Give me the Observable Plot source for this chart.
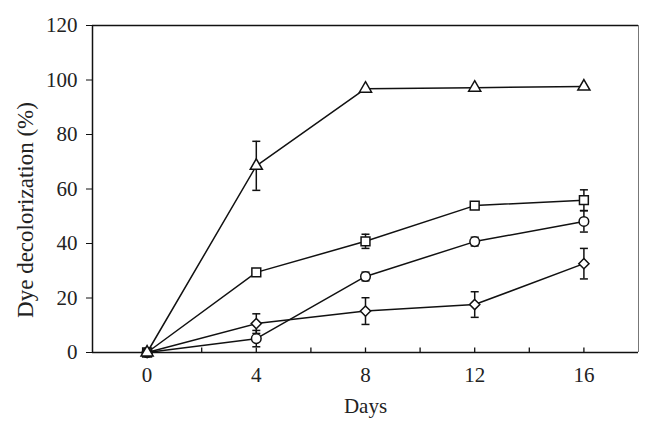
<!DOCTYPE html>
<html><head><meta charset="utf-8">
<script src="https://cdn.jsdelivr.net/npm/d3@7"></script>
<script src="https://cdn.jsdelivr.net/npm/@observablehq/plot@0.6"></script>
<style>body{margin:0;background:#fff}</style>
</head><body><div id="chart"></div>
<script>
const days = [0, 4, 8, 12, 16];
const triangleMean = [0, 68.5, 96.8, 97.2, 97.6];
const triangleErr  = [0, 9.0, 0, 0, 0];
const squareMean   = [0, 29.4, 40.8, 53.9, 55.9];
const squareErr    = [0, 0, 2.6, 0, 3.8];
const circleMean   = [0, 5.1, 27.9, 40.7, 48.1];
const circleErr    = [0, 3.0, 1.6, 1.6, 3.9];
const diamondMean  = [0, 10.6, 15.2, 17.6, 32.6];
const diamondErr   = [0, 3.6, 4.9, 4.7, 5.6];
const xTickLabels = [0, 4, 8, 12, 16];
const xTickMarks = [0, 2, 4, 6, 8, 10, 12, 14, 16];
const yTicks = [0, 20, 40, 60, 80, 100, 120];
const xTitle = "Days";
const yTitle = "Dye decolorization (%)";

const series = [
  {symbol: "triangle", size: 4.5, mean: triangleMean, err: triangleErr},
  {symbol: "square", size: 5, mean: squareMean, err: squareErr},
  {symbol: "circle", size: 4.8, mean: circleMean, err: circleErr},
  {symbol: "diamond2", size: 4.6, mean: diamondMean, err: diamondErr}
];
const rows = series.flatMap(s => days.map((d, i) => ({series: s.symbol, size: s.size, day: d, value: s.mean[i], err: s.err[i]})));
const errRows = rows.filter(r => r.err > 0);

const cap = {draw(ctx) { ctx.moveTo(-4, 0); ctx.lineTo(4, 0); }};
const tickUp = {draw(ctx) { ctx.moveTo(0, 0); ctx.lineTo(0, -5); }};
const FONT = "'Liberation Serif', 'Times New Roman', serif";

const chart = Plot.plot({
  width: 651, height: 432,
  marginLeft: 92, marginRight: 13, marginTop: 25, marginBottom: 80,
  style: {fontFamily: FONT, fontSize: "21px", color: "#222", background: "#fff"},
  x: {domain: [-2, 18]},
  y: {domain: [0, 120]},
  r: {type: "identity"},
  symbol: {type: "identity"},
  marks: [
    Plot.axisY({ticks: yTicks, tickSize: 6, tickPadding: 9, label: null, stroke: "#111", fontSize: 21, fontFamily: FONT}),
    Plot.axisX({ticks: xTickLabels, tickSize: 0, tickPadding: 15, label: null, fontSize: 21, fontFamily: FONT}),
    Plot.ruleY([120], {stroke: "#111", strokeWidth: 1.5}),
    Plot.ruleX([18], {stroke: "#777", strokeWidth: 1}),
    Plot.ruleY([0], {stroke: "#111", strokeWidth: 1.5}),
    Plot.ruleX([-2], {stroke: "#111", strokeWidth: 1.5}),
    Plot.dot(xTickMarks, {x: d => d, y: 0, symbol: tickUp, r: 5, stroke: "#111", strokeWidth: 1.3}),
    Plot.line(rows, {x: "day", y: "value", z: "series", stroke: "#111", strokeWidth: 1.5}),
    Plot.ruleX(errRows, {x: "day", y1: d => d.value - d.err, y2: d => d.value + d.err, stroke: "#111", strokeWidth: 1.5}),
    Plot.dot(errRows, {x: "day", y: d => d.value + d.err, symbol: cap, r: 4, stroke: "#111", strokeWidth: 1.5}),
    Plot.dot(errRows, {x: "day", y: d => d.value - d.err, symbol: cap, r: 4, stroke: "#111", strokeWidth: 1.5}),
    Plot.dot(rows, {x: "day", y: "value", symbol: "series", r: "size", fill: "white", stroke: "#111", strokeWidth: 1.5}),
    Plot.text([yTitle], {frameAnchor: "left", textAnchor: "middle", lineAnchor: "middle", rotate: -90, dx: -67, dy: 21, fill: "#222", fontSize: 23, fontFamily: FONT}),
    Plot.text([xTitle], {frameAnchor: "bottom", lineAnchor: "middle", dy: 54, fill: "#222", fontSize: 21, fontFamily: FONT})
  ]
});
document.getElementById("chart").appendChild(chart);
</script>
</body></html>
